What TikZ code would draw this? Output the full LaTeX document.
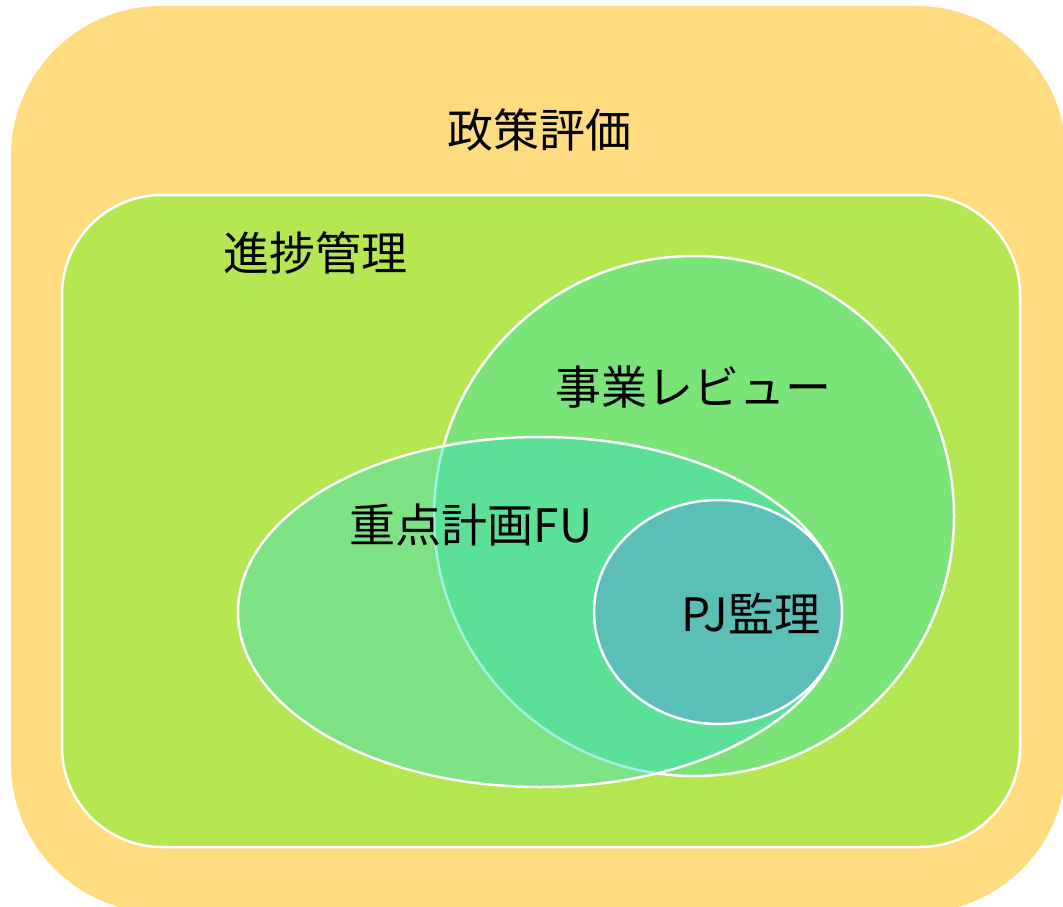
\documentclass[tikz,border=0pt]{standalone}
\usepackage{fontspec}
\newfontfamily\jp{Noto Sans CJK JP}
\usetikzlibrary{shapes.geometric}
\definecolor{outerY}{RGB}{255,220,128}
\definecolor{progG}{RGB}{181,231,83}
\definecolor{revG}{RGB}{122,228,120}
\definecolor{fuT}{RGB}{55,221,193}
\definecolor{pjT}{RGB}{91,190,183}
\tikzset{
  lbl/.style={font=\jp\fontsize{46}{52}\selectfont, text=black, inner sep=0pt},
  setshape/.style={draw=white, line width=2.5pt, inner sep=0pt},
}
\begin{document}
\begin{tikzpicture}[x=1pt,y=-1pt]
\useasboundingbox (0,0) rectangle (1063,907);
\clip (0,0) rectangle (1063,907);
\fill[white] (0,0) rectangle (1063,907);
% outer policy evaluation
\fill[outerY, rounded corners=150pt] (11,6) rectangle (1066,913);
% progress management
\draw[setshape, fill=progG, rounded corners=100pt] (62,195) rectangle (1020,847);
% business review circle
\node[setshape, circle, fill=revG, minimum size=520pt] (rev) at (694,516) {};
% priority plan FU ellipse (semi-transparent)
\node[ellipse, fill=fuT, fill opacity=0.45, minimum width=604pt, minimum height=350pt, inner sep=0pt] (fu) at (540,612) {};
\node[ellipse, draw=white, line width=2.5pt, minimum width=604pt, minimum height=350pt, inner sep=0pt] (fuedge) at (540,612) {};
% PJ audit
\node[setshape, ellipse, fill=pjT, minimum width=248pt, minimum height=224pt] (pj) at (718,612) {};
% labels
\node[lbl] (t1) at (539,130) {政策評価};
\node[lbl] (t2) at (315,253) {進捗管理};
\node[lbl] (t3) at (693,387) {事業レビュー};
\node[lbl] (t4) at (471,525) {重点計画FU};
\node[lbl] (t5) at (751,613) {PJ監理};
\end{tikzpicture}
\end{document}
